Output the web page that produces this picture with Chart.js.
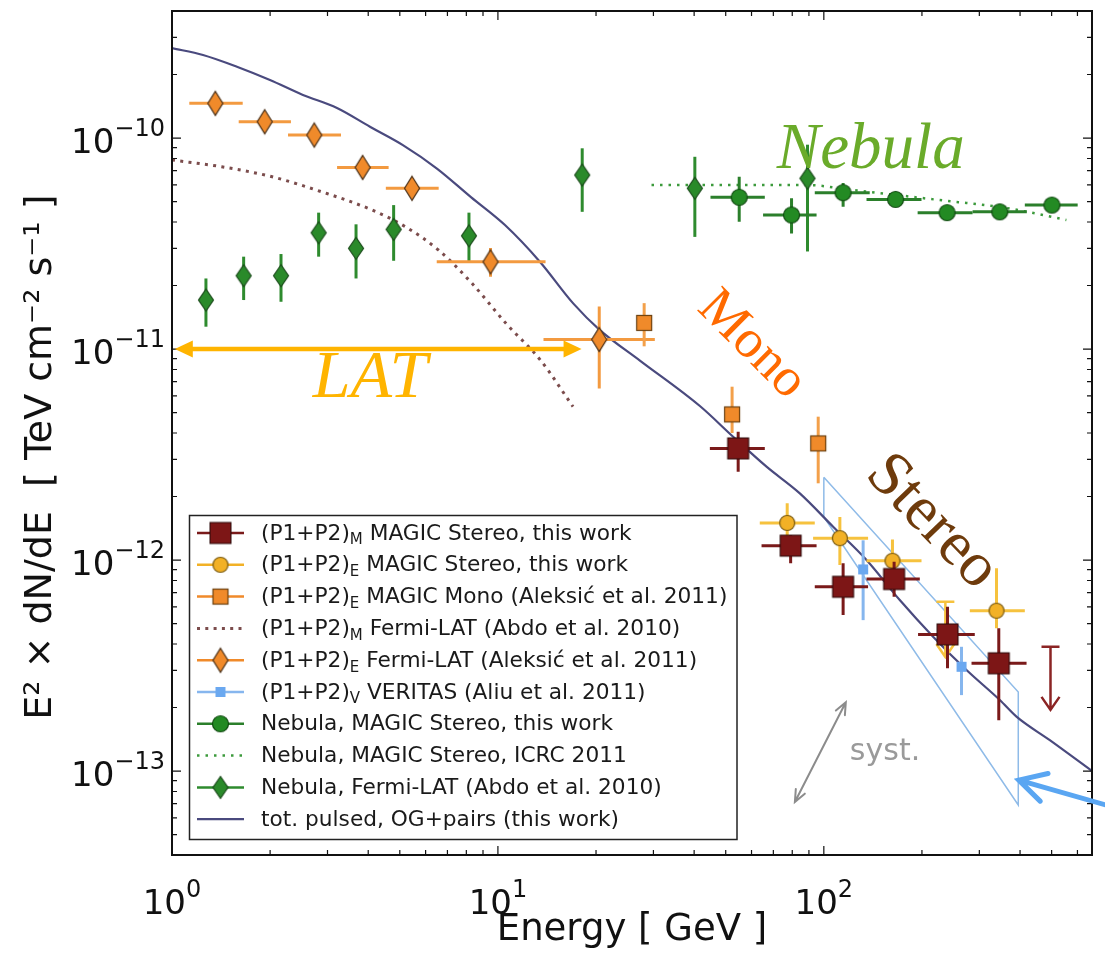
<!DOCTYPE html>
<html><head><meta charset="utf-8">
<script src="https://cdn.jsdelivr.net/npm/chart.js@4.4.1/dist/chart.umd.min.js"></script>
<style>html,body{margin:0;padding:0;background:#fff;}#c{display:block;}</style>
</head><body>
<canvas id="c" width="1105" height="959"></canvas>
<script>
// ===================== DATA =====================
const xAxisMin = 1, xAxisMax = 665;
const yAxisMin = 4e-14, yAxisMax = 4e-10;
const xTickValues = [1, 10, 100];
const xTickLabels = ['10^0', '10^1', '10^2'];
const yTickValues = [1e-13, 1e-12, 1e-11, 1e-10];
const yTickLabels = ['10^−13', '10^−12', '10^−11', '10^−10'];

// (P1+P2)_M MAGIC Stereo
const stereoM_E   = [54.6, 79.1, 114.6, 164.3, 239.6, 344.2];
const stereoM_F   = [3.38e-12, 1.17e-12, 7.47e-13, 8.13e-13, 4.44e-13, 3.24e-13];
const stereoM_Elo = [44.7, 64.4, 93.8, 135.2, 194.6, 283.9];
const stereoM_Ehi = [65.9, 95.0, 136.7, 197.0, 290.5, 418.8];
const stereoM_Flo = [2.62e-12, 9.65e-13, 5.49e-13, 6.70e-13, 3.07e-13, 1.74e-13];
const stereoM_Fhi = [4.06e-12, 1.31e-12, 9.65e-13, 9.82e-13, 6.01e-13, 4.75e-13];
const stereoM_UL_E = [496], stereoM_UL_F = [3.88e-13], stereoM_UL_tip = [1.95e-13];

// (P1+P2)_E MAGIC Stereo
const stereoE_E   = [77.2, 112, 162.4, 338.7];
const stereoE_F   = [1.50e-12, 1.27e-12, 9.92e-13, 5.75e-13];
const stereoE_Elo = [63.6, 92.7, 135.2, 280.5];
const stereoE_Ehi = [93.8, 136.7, 199.4, 413.7];
const stereoE_Flo = [1.18e-12, 9.47e-13, 8.0e-13, 4.75e-13];
const stereoE_Fhi = [1.86e-12, 1.60e-12, 1.25e-12, 9.14e-13];
const stereoE_UL_E = [236], stereoE_UL_F = [6.34e-13], stereoE_UL_tip = [3.47e-13];

// (P1+P2)_E MAGIC Mono
const mono_E   = [28.1, 52.3, 96.1];
const mono_F   = [1.33e-11, 4.90e-12, 3.57e-12];
const mono_Flo = [1.03e-11, 4.0e-12, 2.31e-12];
const mono_Fhi = [1.65e-11, 6.63e-12, 4.78e-12];

// (P1+P2)_M Fermi-LAT (Abdo) curve
const fermiM_E = [1, 1.42, 2.03, 2.88, 4.11, 5.20, 6.58, 8.32, 10.6, 13.5, 17.0];
const fermiM_F = [7.87e-11, 7.31e-11, 6.55e-11, 5.56e-11, 4.56e-11, 3.80e-11, 2.94e-11, 2.05e-11, 1.32e-11, 8.87e-12, 5.33e-12];

// (P1+P2)_E Fermi-LAT (Aleksic)
const fermiE_E   = [1.358, 1.925, 2.733, 3.846, 5.45, 9.49, 20.46];
const fermiE_F   = [1.46e-10, 1.195e-10, 1.033e-10, 7.26e-11, 5.78e-11, 2.59e-11, 1.11e-11];
const fermiE_Elo = [1.13, 1.602, 2.27, 3.21, 4.53, 6.49, 13.8];
const fermiE_Ehi = [1.648, 2.317, 3.30, 4.62, 6.58, 14.0, 30.3];
const fermiE_Flo = [1.40e-10, 1.14e-10, 0.99e-10, 6.9e-11, 5.5e-11, 2.2e-11, 6.5e-12];
const fermiE_Fhi = [1.52e-10, 1.25e-10, 1.08e-10, 7.6e-11, 6.05e-11, 3.01e-11, 1.59e-11];

// (P1+P2)_V VERITAS
const veritas_E   = [132, 264.5];
const veritas_F   = [9.03e-13, 3.12e-13];
const veritas_Flo = [5.19e-13, 2.29e-13];
const veritas_Fhi = [1.24e-12, 3.88e-13];
const veritasBand_E = [100, 395, 395, 100, 100];
const veritasBand_F = [2.47e-12, 2.37e-13, 6.9e-14, 1.60e-12, 2.47e-12];

// Nebula, MAGIC Stereo
const nebM_E   = [55.0, 79.6, 114.6, 166, 238.9, 346.7, 501];
const nebM_F   = [5.24e-11, 4.32e-11, 5.51e-11, 5.12e-11, 4.43e-11, 4.47e-11, 4.81e-11];
const nebM_Elo = [44.9, 65.1, 93.8, 135.2, 194, 286, 413.7];
const nebM_Ehi = [65.9, 95, 138.3, 199.4, 286, 419.6, 601];
const nebM_Flo = [4.01e-11, 3.53e-11, 4.73e-11, 4.75e-11, 4.1e-11, 4.15e-11, 4.45e-11];
const nebM_Fhi = [6.55e-11, 5.18e-11, 6.12e-11, 5.5e-11, 4.8e-11, 4.85e-11, 5.2e-11];

// Nebula, MAGIC Stereo ICRC 2011 (curve)
const nebICRC_E = [29.6, 88.5, 122.8, 226.9, 363, 555];
const nebICRC_F = [5.99e-11, 5.99e-11, 5.67e-11, 5.08e-11, 4.66e-11, 4.09e-11];

// Nebula, Fermi-LAT
const nebF_E   = [1.271, 1.659, 2.16, 2.818, 3.67, 4.787, 8.15, 18.14, 40.2, 89.1];
const nebF_F   = [1.707e-11, 2.225e-11, 2.225e-11, 3.556e-11, 3.0e-11, 3.69e-11, 3.44e-11, 6.68e-11, 5.78e-11, 6.44e-11];
const nebF_Flo = [1.276e-11, 1.707e-11, 1.675e-11, 2.74e-11, 2.16e-11, 2.62e-11, 2.59e-11, 4.47e-11, 3.40e-11, 2.9e-11];
const nebF_Fhi = [2.16e-11, 2.74e-11, 2.82e-11, 4.43e-11, 3.90e-11, 4.81e-11, 4.43e-11, 8.94e-11, 8.15e-11, 9.3e-11];

// tot. pulsed, OG+pairs model
const model_E = [1, 1.245, 1.582, 1.998, 2.522, 3.208, 4.05, 5.11, 6.50, 8.265, 10.51, 13.45, 17.02, 20.55, 27.27, 41.66, 52.7, 66.7, 84.4, 106.8, 135.2, 171, 216.4, 274, 346.7, 390, 493.6, 665];
const model_F = [2.67e-10, 2.474e-10, 2.177e-10, 1.883e-10, 1.60e-10, 1.388e-10, 1.131e-10, 9.26e-11, 7.17e-11, 5.25e-11, 3.87e-11, 2.594e-11, 1.646e-11, 1.23e-11, 8.82e-12, 5.37e-12, 3.84e-12, 2.77e-12, 2.07e-12, 1.438e-12, 1.0e-12, 6.46e-13, 4.33e-13, 3.01e-13, 2.17e-13, 1.81e-13, 1.40e-13, 1.0e-13];

const legendLabels = [
  '(P1+P2)_M MAGIC Stereo, this work',
  '(P1+P2)_E MAGIC Stereo, this work',
  '(P1+P2)_E MAGIC Mono (Aleksić et al. 2011)',
  '(P1+P2)_M Fermi-LAT (Abdo et al. 2010)',
  '(P1+P2)_E Fermi-LAT (Aleksić et al. 2011)',
  '(P1+P2)_V VERITAS (Aliu et al. 2011)',
  'Nebula, MAGIC Stereo, this work',
  'Nebula, MAGIC Stereo, ICRC 2011',
  'Nebula, Fermi-LAT (Abdo et al. 2010)',
  'tot. pulsed, OG+pairs (this work)'
];

// ===================== HELPERS =====================
const pts = (xs, ys) => xs.map((x, i) => ({x: x, y: ys[i]}));
function mk(w, h, draw) {
  const c = document.createElement('canvas');
  c.width = w; c.height = h;
  const g = c.getContext('2d');
  g.translate(w / 2, h / 2);
  draw(g);
  return c;
}
function squareM(side, fill, stroke, lw) {
  const s = Math.ceil(side + 2 * lw + 2);
  return mk(s, s, g => { g.fillStyle = fill; g.fillRect(-side/2, -side/2, side, side);
    if (lw > 0) { g.lineWidth = lw; g.strokeStyle = stroke; g.strokeRect(-side/2, -side/2, side, side); } });
}
function circleM(r, fill, stroke, lw) {
  const s = Math.ceil(2 * r + 2 * lw + 2);
  return mk(s, s, g => { g.beginPath(); g.arc(0, 0, r, 0, Math.PI * 2); g.fillStyle = fill; g.fill();
    g.lineWidth = lw; g.strokeStyle = stroke; g.stroke(); });
}
function diamondM(hw, hh, fill, stroke, lw) {
  const w = Math.ceil(2 * hw + 2 * lw + 2), h = Math.ceil(2 * hh + 2 * lw + 2);
  return mk(w, h, g => { g.beginPath(); g.moveTo(0, -hh); g.lineTo(hw, 0); g.lineTo(0, hh); g.lineTo(-hw, 0); g.closePath();
    g.fillStyle = fill; g.fill(); g.lineWidth = lw; g.strokeStyle = stroke; g.stroke(); });
}

const mkStereoM = squareM(21, '#7d1616', '#2a0808', 1);
const mkStereoE = circleM(7.5, '#f2b126', '#7a5a10', 1.2);
const mkMono    = squareM(15, '#f08a2a', '#6a4010', 1.2);
const mkFermiE  = diamondM(7.5, 12, '#f08a2a', '#4a3018', 1.2);
const mkVer     = squareM(10, '#6aa8f0', '#6aa8f0', 0);
const mkNebM    = circleM(8, '#238a23', '#124a12', 1.2);
const mkNebF    = diamondM(7.5, 11, '#2a8a2a', '#1a4a1a', 1.2);

function scatterDS(label, xs, ys, img, order, err, legendRow, legendLine) {
  return { label, data: pts(xs, ys), pointStyle: img, pointRadius: 6, pointHoverRadius: 6,
    borderWidth: 0, showLine: false, order, err, legendRow, legendLine };
}
function lineDS(label, xs, ys, color, width, dash, order, legendRow, interp) {
  return { label, data: pts(xs, ys), showLine: true, borderColor: color, borderWidth: width,
    borderDash: dash, pointRadius: 0, fill: false, order, legendRow,
    cubicInterpolationMode: interp ? 'monotone' : 'default', tension: 0,
    legendLine: { color, width, dash } };
}

const datasets = [
  scatterDS(legendLabels[0], stereoM_E, stereoM_F, mkStereoM, 0,
    { xlo: stereoM_Elo, xhi: stereoM_Ehi, ylo: stereoM_Flo, yhi: stereoM_Fhi, color: '#7a1a1a', width: 3,
      ulx: stereoM_UL_E, uly: stereoM_UL_F, ultip: stereoM_UL_tip, ulcolor: '#8b2424' },
    0, { color: '#7a1a1a', width: 2.5 }),
  scatterDS(legendLabels[1], stereoE_E, stereoE_F, mkStereoE, 1,
    { xlo: stereoE_Elo, xhi: stereoE_Ehi, ylo: stereoE_Flo, yhi: stereoE_Fhi, color: '#f6c23e', width: 3,
      ulx: stereoE_UL_E, uly: stereoE_UL_F, ultip: stereoE_UL_tip, ulcolor: '#f6c23e' },
    1, { color: '#f2b126', width: 2.5 }),
  scatterDS(legendLabels[2], mono_E, mono_F, mkMono, 2,
    { ylo: mono_Flo, yhi: mono_Fhi, color: '#f3a04a', width: 3 }, 2, { color: '#f08a2a', width: 2.5 }),
  lineDS(legendLabels[3], fermiM_E, fermiM_F, '#7b4c4c', 3, [3, 5.3], 8, 3, true),
  scatterDS(legendLabels[4], fermiE_E, fermiE_F, mkFermiE, 4,
    { xlo: fermiE_Elo, xhi: fermiE_Ehi, ylo: fermiE_Flo, yhi: fermiE_Fhi, color: '#f39a40', width: 3 },
    4, { color: '#f08a2a', width: 2.5 }),
  scatterDS(legendLabels[5], veritas_E, veritas_F, mkVer, 3,
    { ylo: veritas_Flo, yhi: veritas_Fhi, color: '#86b6ee', width: 3 }, 5, { color: '#86b6ee', width: 2.5 }),
  scatterDS(legendLabels[6], nebM_E, nebM_F, mkNebM, 5,
    { xlo: nebM_Elo, xhi: nebM_Ehi, ylo: nebM_Flo, yhi: nebM_Fhi, color: '#2b7f2b', width: 3 },
    6, { color: '#2b7f2b', width: 2.5 }),
  lineDS(legendLabels[7], nebICRC_E, nebICRC_F, '#3c9a3c', 2.5, [2.5, 6], 9, 7, true),
  scatterDS(legendLabels[8], nebF_E, nebF_F, mkNebF, 6,
    { ylo: nebF_Flo, yhi: nebF_Fhi, color: '#2e8b2e', width: 3 }, 8, { color: '#2e8b2e', width: 2.5 }),
  lineDS(legendLabels[9], model_E, model_F, '#4a4a7e', 2.2, [], 7, 9, true),
  lineDS('VERITAS band', veritasBand_E, veritasBand_F, '#8fbbe8', 1.5, [], 10, null, false)
];

// ===================== PLUGINS =====================
const errBars = {
  id: 'errBars',
  beforeDatasetDraw(chart, args) {
    const ds = chart.data.datasets[args.index];
    const e = ds.err; if (!e) return;
    const X = chart.scales.x, Y = chart.scales.y, ctx = chart.ctx;
    ctx.save();
    ctx.strokeStyle = e.color; ctx.lineWidth = e.width; ctx.lineCap = 'butt';
    ds.data.forEach((p, i) => {
      const px = X.getPixelForValue(p.x), py = Y.getPixelForValue(p.y);
      ctx.beginPath();
      if (e.xlo) { ctx.moveTo(X.getPixelForValue(e.xlo[i]), py); ctx.lineTo(X.getPixelForValue(e.xhi[i]), py); }
      if (e.ylo) { ctx.moveTo(px, Y.getPixelForValue(e.ylo[i])); ctx.lineTo(px, Y.getPixelForValue(e.yhi[i])); }
      ctx.stroke();
    });
    if (e.ulx) {
      ctx.strokeStyle = e.ulcolor; ctx.lineWidth = 2.5;
      e.ulx.forEach((u, i) => {
        const px = X.getPixelForValue(u), pt = Y.getPixelForValue(e.uly[i]), pb = Y.getPixelForValue(e.ultip[i]);
        ctx.beginPath();
        ctx.moveTo(px - 9, pt); ctx.lineTo(px + 9, pt);
        ctx.moveTo(px, pt); ctx.lineTo(px, pb);
        ctx.moveTo(px - 9, pb - 13); ctx.lineTo(px, pb); ctx.lineTo(px + 9, pb - 13);
        ctx.stroke();
      });
    }
    ctx.restore();
  }
};

const framePlugin = {
  id: 'frame',
  afterDatasetsDraw(chart) {
    const { ctx, chartArea: a, scales: { x, y } } = chart;
    ctx.save();
    ctx.strokeStyle = '#111'; ctx.lineWidth = 1.2;
    ctx.beginPath();
    const each = (min, max, fn) => {
      for (let k = Math.floor(Math.log10(min)); k <= Math.ceil(Math.log10(max)); k++) {
        for (let m = 1; m <= 9; m++) {
          const v = m * Math.pow(10, k);
          if (v < min * 0.9999 || v > max * 1.0001) continue;
          fn(v, m === 1 ? 9 : 5);
        }
      }
    };
    each(x.min, x.max, (v, len) => { const X = x.getPixelForValue(v);
      ctx.moveTo(X, a.bottom); ctx.lineTo(X, a.bottom - len); ctx.moveTo(X, a.top); ctx.lineTo(X, a.top + len); });
    each(y.min, y.max, (v, len) => { const Y = y.getPixelForValue(v);
      ctx.moveTo(a.left, Y); ctx.lineTo(a.left + len, Y); ctx.moveTo(a.right, Y); ctx.lineTo(a.right - len, Y); });
    ctx.stroke();
    ctx.lineWidth = 2; ctx.strokeRect(a.left, a.top, a.right - a.left, a.bottom - a.top);

    // power-of-ten tick labels with superscript exponents
    const baseF = '34px "DejaVu Sans"', expF = '24px "DejaVu Sans"';
    ctx.fillStyle = '#111'; ctx.textBaseline = 'alphabetic'; ctx.textAlign = 'left';
    const measure = lab => {
      const [b, e] = lab.split('^');
      ctx.font = baseF; const wb = ctx.measureText(b).width;
      ctx.font = expF; const we = ctx.measureText(e).width;
      return { b, e, wb, we };
    };
    const put = (m, x0, base) => {
      ctx.font = baseF; ctx.fillText(m.b, x0, base);
      ctx.font = expF; ctx.fillText(m.e, x0 + m.wb, base - 17);
    };
    xTickValues.forEach((v, i) => {
      const m = measure(xTickLabels[i]);
      put(m, x.getPixelForValue(v) - (m.wb + m.we) / 2, a.bottom + 59);
    });
    yTickValues.forEach((v, i) => {
      const m = measure(yTickLabels[i]);
      put(m, a.left - 7 - (m.wb + m.we), y.getPixelForValue(v) + 15);
    });
    ctx.restore();
  }
};

function drawSubLabel(ctx, label, x, y, size) {
  const m = label.match(/^(.*?)_(\w)(.*)$/);
  ctx.textBaseline = 'middle'; ctx.textAlign = 'left';
  if (!m) { ctx.font = size + 'px "DejaVu Sans"'; ctx.fillText(label, x, y); return; }
  ctx.font = size + 'px "DejaVu Sans"';
  ctx.fillText(m[1], x, y); x += ctx.measureText(m[1]).width;
  ctx.font = Math.round(size * 0.7) + 'px "DejaVu Sans"';
  ctx.fillText(m[2], x, y + size * 0.3); x += ctx.measureText(m[2]).width;
  ctx.font = size + 'px "DejaVu Sans"';
  ctx.fillText(m[3], x, y);
}

const legendPlugin = {
  id: 'customLegend',
  afterDatasetsDraw(chart) {
    const ctx = chart.ctx;
    const L = 189.5, T = 515.5, R = 737, B = 839.5;
    ctx.save();
    ctx.fillStyle = '#fff'; ctx.fillRect(L, T, R - L, B - T);
    ctx.strokeStyle = '#222'; ctx.lineWidth = 1.5; ctx.strokeRect(L, T, R - L, B - T);
    const items = chart.data.datasets.filter(d => d.legendRow != null).sort((a, b) => a.legendRow - b.legendRow);
    items.forEach((d, i) => {
      const cy = 533 + i * 31.8;
      const ll = d.legendLine;
      ctx.save();
      ctx.strokeStyle = ll.color; ctx.lineWidth = ll.width; ctx.setLineDash(ll.dash || []);
      ctx.beginPath(); ctx.moveTo(197, cy); ctx.lineTo(244, cy); ctx.stroke();
      ctx.restore();
      if (!d.showLine && d.pointStyle) {
        const im = d.pointStyle;
        ctx.drawImage(im, 220.5 - im.width / 2, cy - im.height / 2);
      }
      ctx.fillStyle = '#1a1a1a';
      drawSubLabel(ctx, d.label, 261, cy + 1, 21.7);
    });
    ctx.restore();
  }
};

const annotPlugin = {
  id: 'annot',
  afterDraw(chart) {
    const { ctx, scales: { x, y } } = chart;
    const P = (e, f) => [x.getPixelForValue(e), y.getPixelForValue(f)];
    ctx.save();
    // LAT arrow
    const [lx1, ly] = P(1.02, 1e-11), [lx2] = P(18.06, 1e-11);
    ctx.strokeStyle = '#ffb400'; ctx.fillStyle = '#ffb400'; ctx.lineWidth = 4.5;
    ctx.beginPath(); ctx.moveTo(lx1 + 14, ly); ctx.lineTo(lx2 - 14, ly); ctx.stroke();
    ctx.beginPath(); ctx.moveTo(lx1, ly); ctx.lineTo(lx1 + 18, ly - 8.5); ctx.lineTo(lx1 + 18, ly + 8.5); ctx.closePath(); ctx.fill();
    ctx.beginPath(); ctx.moveTo(lx2, ly); ctx.lineTo(lx2 - 18, ly - 8.5); ctx.lineTo(lx2 - 18, ly + 8.5); ctx.closePath(); ctx.fill();
    // LAT text
    let [tx, ty] = P(4.05, 5.92e-12);
    ctx.font = 'italic 68px "Liberation Serif"'; ctx.textAlign = 'center'; ctx.textBaseline = 'alphabetic';
    ctx.fillText('LAT', tx, ty);
    // Nebula
    [tx, ty] = P(139.3, 7.21e-11);
    ctx.fillStyle = '#6aab2a'; ctx.font = 'italic 65px "Liberation Serif"';
    ctx.fillText('Nebula', tx, ty);
    // Mono
    [tx, ty] = P(60.1, 1.045e-11);
    ctx.save(); ctx.translate(tx, ty); ctx.rotate(45 * Math.PI / 180);
    ctx.fillStyle = '#ff6a00'; ctx.font = '54px "Liberation Serif"'; ctx.textBaseline = 'middle';
    ctx.fillText('Mono', 0, 0); ctx.restore();
    // Stereo
    [tx, ty] = P(214.4, 1.514e-12);
    ctx.save(); ctx.translate(tx, ty); ctx.rotate(46 * Math.PI / 180);
    ctx.fillStyle = '#6e3b0c'; ctx.font = '63px "Liberation Serif"'; ctx.textBaseline = 'middle';
    ctx.fillText('Stereo', 0, 0); ctx.restore();
    // syst. arrow
    const [sx1, sy1] = P(81.5, 7.13e-14), [sx2, sy2] = P(116.8, 2.12e-13);
    ctx.strokeStyle = '#8c8c8c'; ctx.lineWidth = 2; ctx.lineCap = 'round';
    ctx.beginPath(); ctx.moveTo(sx1, sy1); ctx.lineTo(sx2, sy2);
    const ang = Math.atan2(sy2 - sy1, sx2 - sx1), hl = 13, ha = 0.4;
    ctx.moveTo(sx2 - hl * Math.cos(ang - ha), sy2 - hl * Math.sin(ang - ha)); ctx.lineTo(sx2, sy2);
    ctx.lineTo(sx2 - hl * Math.cos(ang + ha), sy2 - hl * Math.sin(ang + ha));
    ctx.moveTo(sx1 + hl * Math.cos(ang - ha), sy1 + hl * Math.sin(ang - ha)); ctx.lineTo(sx1, sy1);
    ctx.lineTo(sx1 + hl * Math.cos(ang + ha), sy1 + hl * Math.sin(ang + ha));
    ctx.stroke();
    [tx, ty] = P(120.2, 1.127e-13);
    ctx.fillStyle = '#9a9a9a'; ctx.font = '30px "DejaVu Sans"'; ctx.textAlign = 'left'; ctx.textBaseline = 'alphabetic';
    ctx.fillText('syst.', tx, ty);
    // blue arrow
    const [bx1, by1] = P(396.4, 9.06e-14), [bx2, by2] = P(754, 6.82e-14);
    ctx.strokeStyle = '#5aa6f2'; ctx.lineWidth = 5; ctx.lineCap = 'round';
    const ba = Math.atan2(by1 - by2, bx1 - bx2), bl = 30, bh = 0.5;
    ctx.beginPath(); ctx.moveTo(bx2, by2); ctx.lineTo(bx1, by1);
    ctx.moveTo(bx1 - bl * Math.cos(ba - bh), by1 - bl * Math.sin(ba - bh)); ctx.lineTo(bx1, by1);
    ctx.lineTo(bx1 - bl * Math.cos(ba + bh), by1 - bl * Math.sin(ba + bh));
    ctx.stroke();
    ctx.restore();
  }
};

const chart = new Chart(document.getElementById('c'), {
  type: 'scatter',
  data: { datasets },
  options: {
    responsive: false, animation: false, devicePixelRatio: 1,
    layout: { padding: { top: 11, right: 13, left: 0, bottom: 0 } },
    plugins: { legend: { display: false }, tooltip: { enabled: false } },
    scales: {
      x: {
        type: 'logarithmic', min: xAxisMin, max: xAxisMax, position: 'bottom',
        grid: { display: false }, border: { display: false },
        ticks: { display: false },
        title: { display: true, text: 'Energy [ GeV ]', color: '#111',
          font: { family: 'DejaVu Sans', size: 37 }, padding: { top: 0, bottom: 6 } },
        afterFit: s => { s.height = 104; s.paddingLeft = 0; s.paddingRight = 0; }
      },
      y: {
        type: 'logarithmic', min: yAxisMin, max: yAxisMax, position: 'left',
        grid: { display: false }, border: { display: false },
        ticks: { display: false },
        title: { display: true, text: 'E² × dN/dE  [ TeV cm⁻² s⁻¹ ]    ', color: '#111',
          font: { family: 'DejaVu Sans', size: 38 }, padding: { top: 18, bottom: 0 } },
        afterFit: s => { s.width = 172; s.paddingTop = 0; s.paddingBottom = 0; }
      }
    }
  },
  plugins: [errBars, framePlugin, legendPlugin, annotPlugin]
});
</script>
</body></html>
